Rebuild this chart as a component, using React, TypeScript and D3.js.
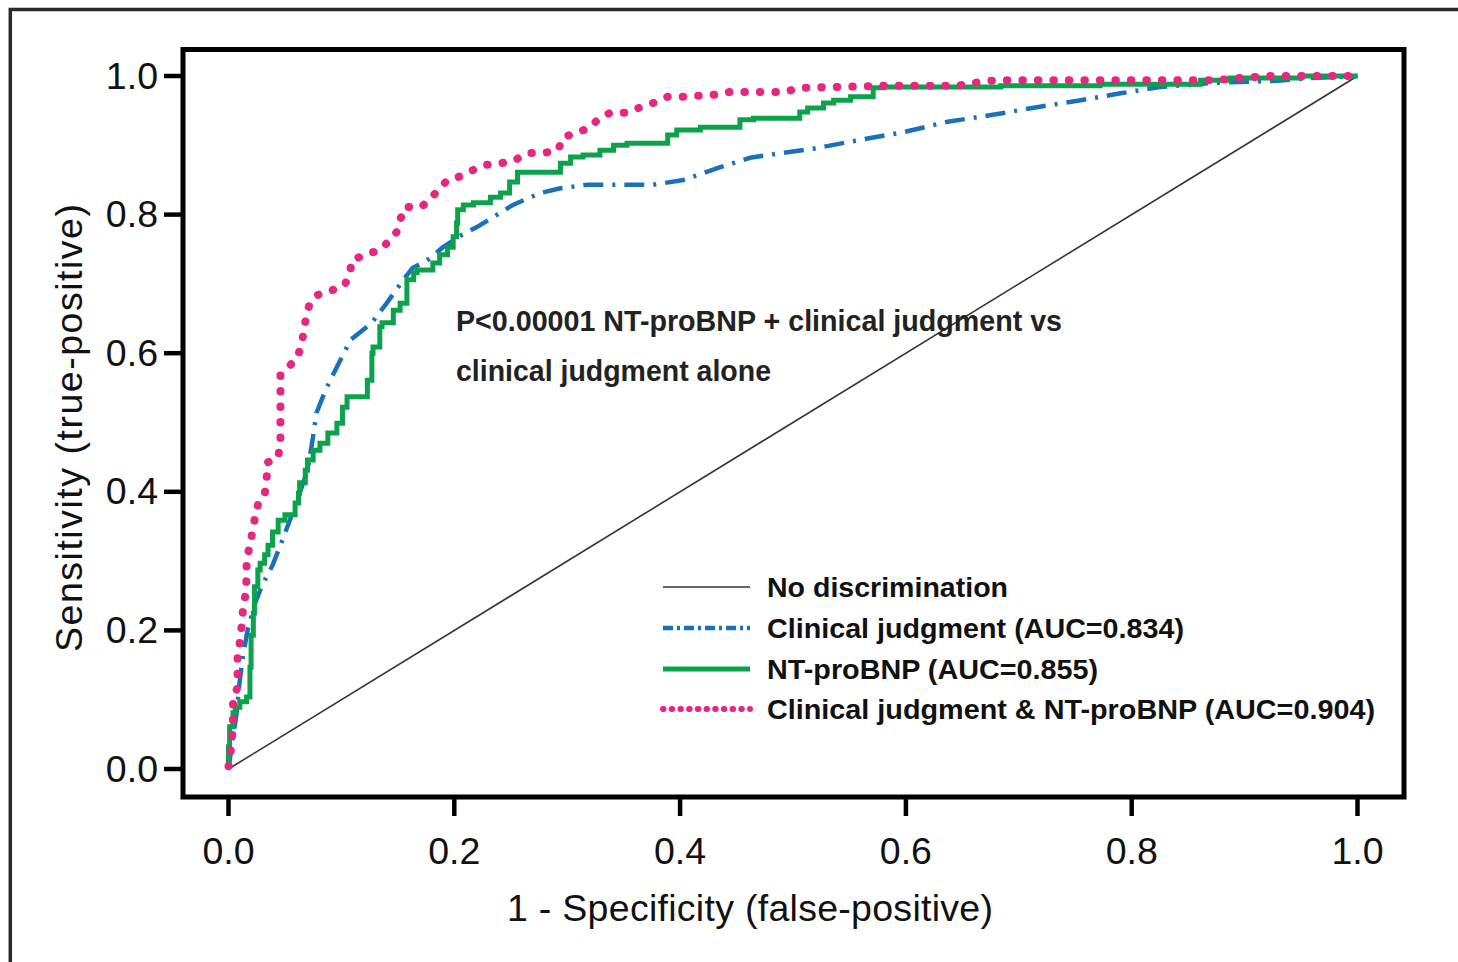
import React from 'react';
import * as d3 from 'd3';

// ---------- data (fpr, tpr) ----------
const xTicks = [0, 0.2, 0.4, 0.6, 0.8, 1.0];
const yTicks = [0, 0.2, 0.4, 0.6, 0.8, 1.0];

const noDiscrimination: [number, number][] = [[0, 0], [1, 1]];

const clinicalJudgment: [number, number][] = [
  [0.000, 0.000], [0.003, 0.035], [0.007, 0.078], [0.010, 0.128], [0.013, 0.165],
  [0.017, 0.201], [0.023, 0.237], [0.030, 0.266], [0.039, 0.294], [0.046, 0.323],
  [0.055, 0.362], [0.063, 0.398], [0.070, 0.431], [0.074, 0.470], [0.078, 0.514],
  [0.086, 0.547], [0.096, 0.580], [0.108, 0.619], [0.127, 0.644], [0.140, 0.672],
  [0.155, 0.706], [0.163, 0.723], [0.176, 0.734], [0.190, 0.753], [0.207, 0.771],
  [0.220, 0.782], [0.252, 0.814], [0.276, 0.831], [0.294, 0.838], [0.318, 0.843],
  [0.376, 0.843], [0.403, 0.850], [0.433, 0.867], [0.462, 0.882], [0.491, 0.889],
  [0.521, 0.896], [0.560, 0.908], [0.598, 0.919], [0.637, 0.934], [0.677, 0.944],
  [0.716, 0.955], [0.755, 0.965], [0.790, 0.975], [0.825, 0.984], [0.870, 0.990],
  [0.929, 0.993], [0.958, 0.997], [1.000, 1.000],
];

const ntProBNP: [number, number][] = [
  [0.000, 0.000], [0.000, 0.027], [0.001, 0.032], [0.004, 0.061], [0.006, 0.081],
  [0.010, 0.089], [0.016, 0.097], [0.019, 0.104], [0.020, 0.147], [0.020, 0.186],
  [0.022, 0.193], [0.023, 0.225], [0.023, 0.254], [0.026, 0.263], [0.028, 0.287],
  [0.032, 0.297], [0.035, 0.309], [0.039, 0.323], [0.044, 0.342], [0.050, 0.359],
  [0.059, 0.367], [0.062, 0.384], [0.063, 0.398], [0.068, 0.413], [0.070, 0.431],
  [0.075, 0.446], [0.081, 0.460], [0.088, 0.470], [0.096, 0.485], [0.101, 0.499],
  [0.105, 0.522], [0.110, 0.537], [0.123, 0.537], [0.127, 0.561], [0.128, 0.600],
  [0.134, 0.609], [0.136, 0.638], [0.146, 0.644], [0.152, 0.662], [0.158, 0.672],
  [0.164, 0.706], [0.167, 0.716], [0.181, 0.720], [0.187, 0.730], [0.194, 0.742],
  [0.199, 0.753], [0.202, 0.768], [0.203, 0.788], [0.208, 0.807], [0.217, 0.814],
  [0.232, 0.817], [0.241, 0.825], [0.249, 0.831], [0.256, 0.847], [0.267, 0.861],
  [0.294, 0.861], [0.303, 0.874], [0.314, 0.883], [0.329, 0.886], [0.341, 0.893],
  [0.353, 0.900], [0.389, 0.903], [0.397, 0.915], [0.418, 0.922], [0.453, 0.926],
  [0.465, 0.937], [0.506, 0.939], [0.513, 0.948], [0.527, 0.954], [0.536, 0.961],
  [0.551, 0.965], [0.571, 0.970], [0.580, 0.983], [0.684, 0.984], [0.772, 0.986],
  [0.861, 0.988], [0.887, 0.994], [0.950, 0.997], [1.000, 1.000],
];

const combined: [number, number][] = [
  [0.000, 0.004], [0.003, 0.038], [0.004, 0.075], [0.004, 0.100], [0.008, 0.118],
  [0.008, 0.143], [0.008, 0.162], [0.010, 0.183], [0.012, 0.211], [0.013, 0.234],
  [0.015, 0.251], [0.016, 0.276], [0.016, 0.302], [0.019, 0.323], [0.021, 0.341],
  [0.023, 0.359], [0.026, 0.381], [0.032, 0.395], [0.034, 0.424], [0.034, 0.442],
  [0.044, 0.449], [0.046, 0.475], [0.046, 0.521], [0.046, 0.569], [0.053, 0.580],
  [0.061, 0.593], [0.065, 0.615], [0.069, 0.655], [0.072, 0.672], [0.079, 0.684],
  [0.092, 0.691], [0.103, 0.698], [0.108, 0.720], [0.109, 0.734], [0.121, 0.742],
  [0.134, 0.749], [0.141, 0.760], [0.149, 0.775], [0.152, 0.792], [0.156, 0.811],
  [0.171, 0.811], [0.180, 0.825], [0.194, 0.850], [0.205, 0.855], [0.216, 0.864],
  [0.229, 0.872], [0.241, 0.874], [0.254, 0.879], [0.265, 0.889], [0.280, 0.889],
  [0.292, 0.893], [0.296, 0.911], [0.309, 0.919], [0.320, 0.925], [0.327, 0.937],
  [0.338, 0.947], [0.353, 0.947], [0.365, 0.955], [0.376, 0.961], [0.389, 0.970],
  [0.403, 0.970], [0.431, 0.973], [0.444, 0.977], [0.493, 0.977], [0.506, 0.983],
  [0.586, 0.986], [0.646, 0.986], [0.672, 0.993], [0.686, 0.994], [0.876, 0.994],
  [0.894, 0.997], [0.921, 1.000], [1.000, 1.000],
];

const legendLabels = [
  'No discrimination',
  'Clinical judgment (AUC=0.834)',
  'NT-proBNP (AUC=0.855)',
  'Clinical judgment & NT-proBNP (AUC=0.904)',
];
const annotationLines = [
  'P<0.00001 NT-proBNP + clinical judgment vs',
  'clinical judgment alone',
];
const xTitle = '1 - Specificity (false-positive)';
const yTitle = 'Sensitivity (true-positive)';

// ---------- styles ----------
const COLORS = { diag: '#333333', blue: '#1b71b9', green: '#0ca24c', pink: '#e6277f' };
const regularFont = '"Liberation Sans", Arial, Helvetica, sans-serif';
const narrowFont = '"Liberation Sans Narrow", "Arial Narrow", "Liberation Sans", Arial, sans-serif';

export default function App() {
  const W = 1458, H = 962;
  const x = d3.scaleLinear().domain([0, 1]).range([228.5, 1357.5]);
  const y = d3.scaleLinear().domain([0, 1]).range([769, 76]);

  const lin = d3.line<[number, number]>().x(d => x(d[0])).y(d => y(d[1]));
  const step = d3.line<[number, number]>().x(d => x(d[0])).y(d => y(d[1])).curve(d3.curveStepBefore);

  const frame = { left: 183, top: 49.5, right: 1404, bottom: 797 };

  const legendStyles = [
    { stroke: COLORS.diag, width: 1.6, dash: undefined as string | undefined, cap: 'butt' },
    { stroke: COLORS.blue, width: 4.5, dash: '10,4,3,4', cap: 'butt' },
    { stroke: COLORS.green, width: 5, dash: undefined, cap: 'butt' },
    { stroke: COLORS.pink, width: 6, dash: '0.5,8.2', cap: 'round' },
  ];
  const legendLineY = [587, 628, 669, 709];
  const legendTextWidths = [241, 417, 331, 608];
  const annotationWidths = [606, 315];

  return (
    <svg width={W} height={H} style={{ position: 'absolute', left: 0, top: 0, background: '#fff' }}>
      <rect x={0} y={0} width={W} height={H} fill="#fff" />
      {/* outer figure border */}
      <rect x={10.3} y={9.5} width={W + 20} height={H + 20} fill="none" stroke="#2a2a2a" strokeWidth={3.5} />

      {/* diagonal */}
      <path d={lin(noDiscrimination) || ''} fill="none" stroke={COLORS.diag} strokeWidth={1.6} />
      {/* clinical judgment */}
      <path d={lin(clinicalJudgment) || ''} fill="none" stroke={COLORS.blue} strokeWidth={4.5}
        strokeDasharray="20,9,3,9" />
      {/* NT-proBNP */}
      <path d={step(ntProBNP) || ''} fill="none" stroke={COLORS.green} strokeWidth={5} strokeLinejoin="miter" />
      {/* combined */}
      <path d={lin(combined) || ''} fill="none" stroke={COLORS.pink} strokeWidth={8}
        strokeDasharray="0.5,15" strokeLinecap="round" />

      {/* plot frame */}
      <rect x={frame.left} y={frame.top} width={frame.right - frame.left} height={frame.bottom - frame.top}
        fill="none" stroke="#000" strokeWidth={5} />

      {/* x ticks */}
      {xTicks.map(t => (
        <g key={'x' + t}>
          <line x1={x(t)} x2={x(t)} y1={frame.bottom} y2={816} stroke="#000" strokeWidth={4.5} />
          <text x={x(t)} y={864} textAnchor="middle" fontFamily={regularFont} fontSize={37.5} fill="#111">
            {d3.format('.1f')(t)}
          </text>
        </g>
      ))}
      {/* y ticks */}
      {yTicks.map(t => (
        <g key={'y' + t}>
          <line x1={164} x2={frame.left} y1={y(t)} y2={y(t)} stroke="#000" strokeWidth={4.5} />
          <text x={158} y={y(t) + 12.5} textAnchor="end" fontFamily={regularFont} fontSize={37.5} fill="#111">
            {d3.format('.1f')(t)}
          </text>
        </g>
      ))}

      {/* axis titles */}
      <text x={750} y={921} textAnchor="middle" fontFamily={regularFont} fontSize={37.5} fill="#111"
        textLength={486} lengthAdjust="spacing">{xTitle}</text>
      <text transform="translate(82,428) rotate(-90)" textAnchor="middle" fontFamily={regularFont}
        fontSize={37.5} fill="#111" textLength={448} lengthAdjust="spacing">{yTitle}</text>

      {/* annotation */}
      {annotationLines.map((s, i) => (
        <text key={s} x={456} y={331 + i * 50} fontFamily={narrowFont} fontWeight="bold" fontSize={30}
          fill="#222" textLength={annotationWidths[i]} lengthAdjust="spacingAndGlyphs">{s}</text>
      ))}

      {/* legend */}
      {legendLabels.map((s, i) => (
        <g key={s}>
          <line x1={663} x2={750} y1={legendLineY[i]} y2={legendLineY[i]} stroke={legendStyles[i].stroke}
            strokeWidth={legendStyles[i].width} strokeDasharray={legendStyles[i].dash}
            strokeLinecap={legendStyles[i].cap as any} />
          <text x={767} y={legendLineY[i] + 10} fontFamily={narrowFont} fontWeight="bold" fontSize={28.5}
            fill="#111" textLength={legendTextWidths[i]} lengthAdjust="spacingAndGlyphs">{s}</text>
        </g>
      ))}
    </svg>
  );
}
